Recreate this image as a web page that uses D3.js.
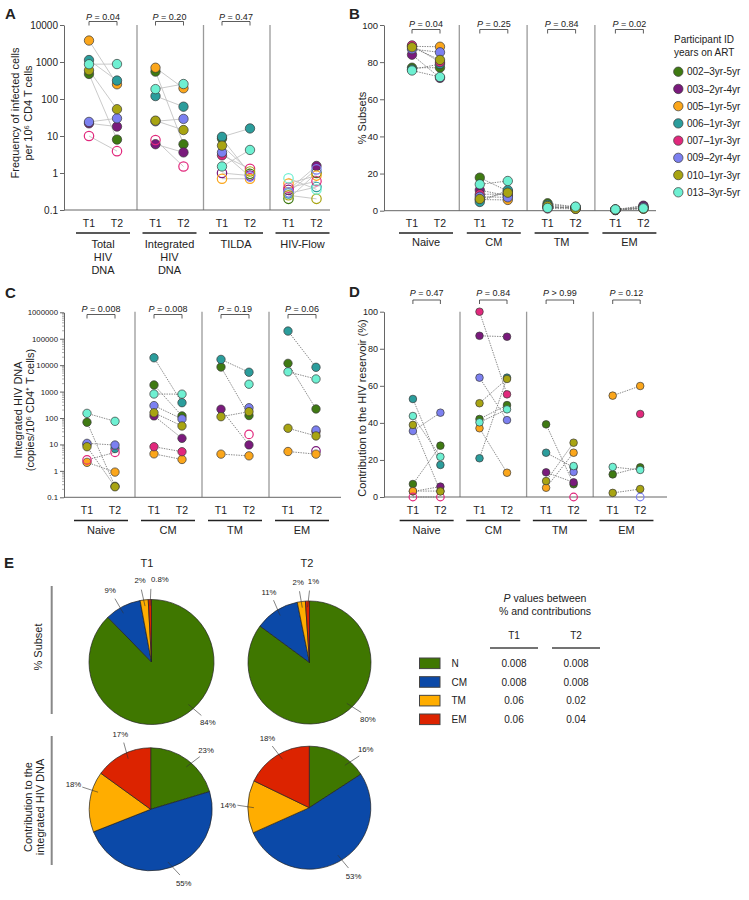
<!DOCTYPE html>
<html><head><meta charset="utf-8">
<script src="https://cdn.jsdelivr.net/npm/d3@7"></script>
<style>body{margin:0;background:#fff}svg text{font-family:"Liberation Sans",Arial,Helvetica,sans-serif;fill:#222}</style>
</head><body><svg id="fig" width="749" height="900"></svg>
<script>
// ---------- DATA ----------
const participantIds = ["002","003","005","006","007","009","010","013"];
const participantYears = ["3yr-5yr","2yr-4yr","1yr-5yr","1yr-3yr","1yr-3yr","2yr-4yr","1yr-3yr","3yr-5yr"];
const participantColors = ["#3f7a12","#7a1a7c","#fba61b","#2b9d9c","#e1287c","#7c80f0","#a8a412","#6ef0d2"];
const timepoints = ["T1","T2"];

// Panel A (order of participants as above; [T1, T2])
const assayGroups = ["Total HIV DNA","Integrated HIV DNA","TILDA","HIV-Flow"];
const assayGroupLines = [["Total","HIV","DNA"],["Integrated","HIV","DNA"],["TILDA"],["HIV-Flow"]];
const assayPValues = ["0.04","0.20","0.47",null];
const totalHivDna = [[475,8],[22,18],[3800,250],[1130,315],[10,3.9],[24,30],[600,53],[870,880]];
const totalHivDnaOpen = [[0,0],[0,0],[0,0],[0,0],[1,1],[0,0],[0,0],[0,0]];
const integratedHivDna = [[550,6],[6,3.6],[700,195],[120,62],[7.8,1.5],[25,29],[26,14.5],[185,254]];
const integratedHivDnaOpen = [[0,0],[0,0],[0,0],[0,0],[1,1],[0,0],[0,0],[0,0]];
const tilda = [[8.5,0.95],[1.0,0.85],[0.7,0.7],[9.5,16],[3.0,1.3],[3.6,0.8],[5.5,1.1],[1.5,4.2]];
const tildaOpen = [[0,1],[1,1],[1,1],[0,0],[0,1],[0,1],[0,1],[0,0]];
const hivFlow = [[0.2,1.0],[0.35,1.55],[0.52,0.85],[0.28,0.42],[0.4,0.6],[0.3,1.25],[0.25,0.2],[0.72,0.36]];
const hivFlowOpen = [[1,1],[1,0],[1,1],[1,1],[1,1],[1,1],[1,1],[1,1]];

// Panel B (% subsets)
const subsetGroups = ["Naive","CM","TM","EM"];
const subsetPValues = ["0.04","0.25","0.84","0.02"];
const naivePct = [[77,77],[84,71.5],[88.5,88.3],[76,79],[89,80],[87,85.3],[88,81.2],[75.5,72]];
const cmPct = [[17.8,10.5],[11.1,8],[6,5.8],[4.7,11.1],[8.8,9],[7.5,7.2],[6.3,9.7],[14.2,16]];
const tmPct = [[4.0,2.0],[2.2,1.5],[1.8,1.5],[3.2,2.0],[1.2,1.0],[2.0,1.6],[2.5,1.0],[1.5,2.2]];
const emPct = [[0.5,2.4],[0.6,2.7],[0.5,1.5],[0.4,1.6],[0.3,1.2],[0.5,1.8],[0.6,1.0],[0.7,1.3]];

// Panel C (integrated HIV DNA per subset)
const intDnaPValues = ["0.008","0.008","0.19","0.06"];
const naiveIntDna = [[69,0.26],[10,null],[2.1,0.9],[null,7],[2.6,5],[11,9.5],[8.2,0.25],[150,75]];
const naiveIntDnaOpen = [[0,0],[0,0],[0,0],[0,0],[1,1],[0,0],[0,0],[0,0]];
const cmIntDna = [[1780,120],[120,17],[4.4,2.7],[19000,380],[8.2,5.3],[295,92],[158,50],[810,800]];
const tmIntDna = [[8500,124],[215,9.6],[4.3,3.7],[16500,5400],[null,24],[null,245],[112,174],[null,1900]];
const tmIntDnaOpen = [[0,0],[0,0],[0,0],[0,0],[0,1],[0,0],[0,0],[0,0]];
const emIntDna = [[11700,220],[null,5.7],[5.4,4.3],[195000,8300],[null,30],[null,35],[41,21],[5600,3000]];
const emIntDnaOpen = [[0,0],[0,1],[0,0],[0,0],[0,0],[0,0],[0,0],[0,0]];

// Panel D (contribution to reservoir, %)
const contribPValues = ["0.47","0.84","> 0.99","0.12"];
const naiveContrib = [[7,27.7],[3,5.6],[3.2,3.2],[52.9,17.3],[0,0],[35.6,45.5],[38.9,3],[43.7,21.7]];
const naiveContribOpen = [[0,0],[0,0],[0,0],[0,0],[1,1],[0,0],[0,0],[0,0]];
const cmContrib = [[42.1,49.6],[87,86.5],[37.1,13.1],[20.9,64.4],[100,55.4],[64.4,41.5],[50.6,63.7],[40.3,47.3]];
const tmContrib = [[39.2,6.9],[13.3,7.9],[5.0,23.9],[23.9,16],[null,0],[null,13.5],[8.6,29.3],[null,16.7]];
const tmContribOpen = [[0,0],[0,0],[0,0],[0,0],[0,1],[0,0],[0,0],[0,0]];
const emContrib = [[12.2,16.0],[null,null],[54.7,59.9],[null,null],[null,44.8],[null,0],[2.2,4.3],[16.2,14.6]];
const emContribOpen = [[0,0],[0,0],[0,0],[0,0],[0,0],[0,1],[0,0],[0,0]];

// Panel E
const pieCategories = ["N","CM","TM","EM"];
const pieColors = ["#3f7700","#0b49a8","#ffad00","#dc2300"];
const subsetShareT1 = [84,9,2,0.8];
const subsetShareT2 = [80,11,2,1];
const contribShareT1 = [23,55,18,17];
const contribShareT2 = [16,53,14,18];
const pieP_T1 = ["0.008","0.008","0.06","0.06"];
const pieP_T2 = ["0.008","0.008","0.02","0.04"];

// ---------- DRAW ----------
const svg = d3.select("#fig");
const noneZero = [[0,0],[0,0],[0,0],[0,0],[0,0],[0,0],[0,0],[0,0]];

function pText(sel, v) {
  sel.append("tspan").attr("font-style","italic").text("P");
  sel.append("tspan").text(v.startsWith(">") ? " " + v : " = " + v);
}

function drawStrip(cfg) {
  const g = svg.append("g");
  const xBand = d3.scaleBand().domain(cfg.groups).range([cfg.bandStart, cfg.bandStart + cfg.step * cfg.groups.length]);
  const xTime = d3.scalePoint().domain(timepoints).range(cfg.timeOffsets);
  const y = cfg.y;
  const yBot = y.range()[0];
  const gx = (grp, t) => xBand(grp) + xTime(t);

  g.selectAll(".sep").data(cfg.groups.slice(1)).join("line")
    .attr("x1", d => xBand(d)).attr("x2", d => xBand(d))
    .attr("y1", cfg.sepTop).attr("y2", yBot)
    .attr("stroke", "#9a9a9a").attr("stroke-width", 1.3);

  g.append("line").attr("x1", cfg.axisX).attr("x2", cfg.baseEnd)
    .attr("y1", yBot).attr("y2", yBot).attr("stroke", "#666").attr("stroke-width", 1);

  const axis = d3.axisLeft(y).tickValues(cfg.ticks).tickFormat(cfg.tickFormat)
    .tickSize(4).tickSizeOuter(0).tickPadding(2);
  const ag = g.append("g").attr("transform", `translate(${cfg.axisX},0)`).call(axis);
  ag.select(".domain").attr("stroke", "#666");
  ag.selectAll(".tick line").attr("stroke", "#666");
  ag.selectAll(".tick text").attr("font-size", cfg.tickFont).attr("fill", "#222")
    .attr("font-family", "Liberation Sans, Arial, sans-serif");
  if (cfg.minor) {
    const minors = [];
    const [lo, hi] = y.domain();
    for (let d = lo; d < hi; d *= 10) for (let k = 2; k < 10; k++) minors.push(d * k);
    g.selectAll(".minor").data(minors).join("line")
      .attr("x1", cfg.axisX - 2).attr("x2", cfg.axisX)
      .attr("y1", d => y(d)).attr("y2", d => y(d)).attr("stroke", "#777").attr("stroke-width", 0.6);
  }

  cfg.yLabel.forEach((t, i) => {
    g.append("text").attr("transform", `translate(${cfg.yLabelX[i]},${cfg.yLabelY}) rotate(-90)`)
      .attr("text-anchor", "middle").attr("dy", "0.35em").attr("font-size", 11).text(t);
  });

  const lines = [], pts = [];
  cfg.groups.forEach((grp, gi) => {
    const vals = cfg.values[gi], open = cfg.open[gi];
    vals.forEach((pair, pi) => {
      const xs = timepoints.map(t => gx(grp, t));
      if (pair[0] != null && pair[1] != null)
        lines.push({ x1: xs[0], y1: y(pair[0]), x2: xs[1], y2: y(pair[1]) });
      pair.forEach((v, ti) => {
        if (v != null) pts.push({ x: xs[ti], y: y(v), c: participantColors[pi], open: open[pi][ti] });
      });
    });
  });
  g.selectAll(".conn").data(lines).join("line")
    .attr("x1", d => d.x1).attr("y1", d => d.y1).attr("x2", d => d.x2).attr("y2", d => d.y2)
    .attr("stroke", cfg.dotted ? "#7a7a7a" : "#c4c4c4").attr("stroke-width", 0.9)
    .attr("stroke-dasharray", cfg.dotted ? "1.4,1.1" : null);
  g.selectAll(".pt").data(pts).join("circle")
    .attr("cx", d => d.x).attr("cy", d => d.y).attr("r", cfg.r)
    .attr("fill", d => d.open ? "none" : d.c)
    .attr("stroke", d => d.open ? d.c : "#3a3a3a")
    .attr("stroke-width", d => d.open ? 1.2 : 0.7);

  cfg.groups.forEach((grp, gi) => {
    timepoints.forEach(t => {
      g.append("text").attr("x", gx(grp, t)).attr("y", cfg.tY).attr("text-anchor", "middle")
        .attr("font-size", 10.5).text(t);
    });
    const cx = (gx(grp, "T1") + gx(grp, "T2")) / 2;
    g.append("line").attr("x1", cx - 27).attr("x2", cx + 27).attr("y1", cfg.ulY).attr("y2", cfg.ulY)
      .attr("stroke", "#222").attr("stroke-width", 1.3);
    cfg.groupLines[gi].forEach((ln, li) => {
      g.append("text").attr("x", cx).attr("y", cfg.glY + li * 13).attr("text-anchor", "middle")
        .attr("font-size", 11).text(ln);
    });
    const pv = cfg.pvals[gi];
    if (pv != null) {
      const x1 = gx(grp, "T1"), x2 = gx(grp, "T2");
      g.append("path").attr("d", `M${x1},${cfg.bY + 4}V${cfg.bY}H${x2}V${cfg.bY + 4}`)
        .attr("fill", "none").attr("stroke", "#333").attr("stroke-width", 0.8);
      g.append("text").attr("x", cx).attr("y", cfg.pY).attr("text-anchor", "middle")
        .attr("font-size", 9).call(pText, pv);
    }
  });
}

const logFmt = d => d < 1 ? String(d) : d3.format("d")(d);

// Panel A
drawStrip({
  groups: assayGroups, groupLines: assayGroupLines, pvals: assayPValues,
  values: [totalHivDna, integratedHivDna, tilda, hivFlow],
  open: [totalHivDnaOpen, integratedHivDnaOpen, tildaOpen, hivFlowOpen],
  y: d3.scaleLog().domain([0.1, 10000]).range([210, 25]),
  ticks: [0.1, 1, 10, 100, 1000, 10000], tickFormat: logFmt, tickFont: 10,
  axisX: 64, bandStart: 70.5, step: 66.5, timeOffsets: [18.5, 46.5], sepTop: 25, baseEnd: 330,
  yLabel: ["Frequency of infected cells", "per 10\u2076 CD4 T cells"], yLabelX: [15, 28], yLabelY: 113,
  tY: 227, ulY: 233, glY: 247.5, pY: 20, bY: 21.5, r: 4.7, dotted: false
});
// Panel B
drawStrip({
  groups: subsetGroups, groupLines: subsetGroups.map(d => [d]), pvals: subsetPValues,
  values: [naivePct, cmPct, tmPct, emPct], open: [noneZero, noneZero, noneZero, noneZero],
  y: d3.scaleLinear().domain([0, 100]).range([210.7, 25]),
  ticks: [0, 20, 40, 60, 80, 100], tickFormat: d3.format("d"), tickFont: 9.5,
  axisX: 384, bandStart: 391.5, step: 67.8, timeOffsets: [20.5, 48.5], sepTop: 25, baseEnd: 656,
  yLabel: ["% Subsets"], yLabelX: [362], yLabelY: 118,
  tY: 227, ulY: 233, glY: 246, pY: 26.5, bY: 29.5, r: 4.7, dotted: true
});
// Panel C
drawStrip({
  groups: subsetGroups, groupLines: subsetGroups.map(d => [d]), pvals: intDnaPValues,
  values: [naiveIntDna, cmIntDna, tmIntDna, emIntDna],
  open: [naiveIntDnaOpen, noneZero, tmIntDnaOpen, emIntDnaOpen],
  y: d3.scaleLog().domain([0.1, 1e6]).range([497.3, 312.3]),
  ticks: [0.1, 1, 10, 100, 1000, 10000, 100000, 1000000], tickFormat: logFmt, tickFont: 7.8, minor: true,
  axisX: 64, bandStart: 68, step: 67, timeOffsets: [19, 47], sepTop: 311.7, baseEnd: 341,
  yLabel: ["Integrated HIV DNA", "(copies/10\u2076 CD4\u207A T cells)"], yLabelX: [18, 30], yLabelY: 410,
  tY: 514, ulY: 520.5, glY: 534, pY: 311.5, bY: 314.5, r: 4.2, dotted: true
});
// Panel D
drawStrip({
  groups: subsetGroups, groupLines: subsetGroups.map(d => [d]), pvals: contribPValues,
  values: [naiveContrib, cmContrib, tmContrib, emContrib],
  open: [naiveContribOpen, noneZero, tmContribOpen, emContribOpen],
  y: d3.scaleLinear().domain([0, 100]).range([497, 311.7]),
  ticks: [0, 20, 40, 60, 80, 100], tickFormat: d3.format("d"), tickFont: 9,
  axisX: 384, bandStart: 393.4, step: 66.6, timeOffsets: [19.5, 47], sepTop: 311.7, baseEnd: 667,
  yLabel: ["Contribution to the HIV reservoir (%)"], yLabelX: [362], yLabelY: 408,
  tY: 514, ulY: 520.5, glY: 534, pY: 296, bY: 300, r: 3.8, dotted: true
});

// Panel letters
[["A", 5, 19], ["B", 349, 19], ["C", 5, 298], ["D", 349, 297], ["E", 4, 568]].forEach(([t, x, yy]) => {
  svg.append("text").attr("x", x).attr("y", yy).attr("font-size", 15).attr("font-weight", "bold").text(t);
});

// Legend
const lg = svg.append("g");
lg.append("text").attr("x", 674).attr("y", 43).attr("font-size", 10).text("Participant ID");
lg.append("text").attr("x", 674).attr("y", 55.5).attr("font-size", 10).text("years on ART");
const legY = d3.scalePoint().domain(participantIds).range([71.7, 192.3]);
participantIds.forEach((id, i) => {
  lg.append("circle").attr("cx", 678.3).attr("cy", legY(id)).attr("r", 4.7)
    .attr("fill", participantColors[i]).attr("stroke", "#3a3a3a").attr("stroke-width", 0.7);
  lg.append("text").attr("x", 687).attr("y", legY(id) + 3.6).attr("font-size", 10)
    .text(id + "\u2013" + participantYears[i]);
});

// Panel E pies
const pieGen = d3.pie().sort(null).value(d => d);
const pieLayouts = [
  { vals: subsetShareT1, cx: 151.5, cy: 662, r: 62.5, inA: [139, 330, 353.4, 358.6], outA: [137, 330, 352, 359.5], tdx: [0, 0, 0, 9] },
  { vals: subsetShareT2, cx: 309.5, cy: 662.5, r: 61.5, inA: [137.6, 328, 352.5, 358], outA: [134, 330, 352, 360], tdx: [0, 0, 0, 4] },
  { vals: contribShareT1, cx: 150.7, cy: 809.3, r: 61.5, inA: [40, 162, 288, 336], outA: [43, 156, 288, 338], tdx: [0, 0, 0, 0] },
  { vals: contribShareT2, cx: 309.3, cy: 807.7, r: 61.5, inA: [40, 149, 270, 331], outA: [44, 147, 272, 329], tdx: [0, 0, 0, 0] }
];
const pol = (cx, cy, r, a) => [cx + r * Math.sin(a * Math.PI / 180), cy - r * Math.cos(a * Math.PI / 180)];
pieLayouts.forEach(p => {
  const g = svg.append("g").attr("transform", `translate(${p.cx},${p.cy})`);
  const arc = d3.arc().innerRadius(0).outerRadius(p.r);
  g.selectAll("path").data(pieGen(p.vals)).join("path")
    .attr("d", arc).attr("fill", (d, i) => pieColors[i]).attr("stroke", "#222").attr("stroke-width", 0.7);
  p.vals.forEach((v, i) => {
    const a = pol(p.cx, p.cy, p.r * 0.9, p.inA[i]);
    const b = pol(p.cx, p.cy, p.r * 1.17, p.outA[i]);
    const t = pol(p.cx, p.cy, p.r * 1.32, p.outA[i]);
    svg.append("line").attr("x1", a[0]).attr("y1", a[1]).attr("x2", b[0]).attr("y2", b[1])
      .attr("stroke", "#333").attr("stroke-width", 0.6);
    svg.append("text").attr("x", t[0] + p.tdx[i]).attr("y", t[1]).attr("dy", "0.35em")
      .attr("text-anchor", "middle").attr("font-size", 7.8).attr("fill", "#333").text(v + "%");
  });
});
svg.append("text").attr("x", 147).attr("y", 567).attr("text-anchor", "middle").attr("font-size", 11).text("T1");
svg.append("text").attr("x", 307).attr("y", 567).attr("text-anchor", "middle").attr("font-size", 11).text("T2");

// Row labels & bars
svg.append("line").attr("x1", 51.7).attr("x2", 51.7).attr("y1", 586).attr("y2", 714).attr("stroke", "#888").attr("stroke-width", 2);
svg.append("line").attr("x1", 51.7).attr("x2", 51.7).attr("y1", 736).attr("y2", 865).attr("stroke", "#888").attr("stroke-width", 2);
svg.append("text").attr("transform", "translate(38.3,647) rotate(-90)").attr("text-anchor", "middle").attr("dy", "0.35em").attr("font-size", 11).text("% Subset");
svg.append("text").attr("transform", "translate(28.3,807) rotate(-90)").attr("text-anchor", "middle").attr("dy", "0.35em").attr("font-size", 11).text("Contribution to the");
svg.append("text").attr("transform", "translate(40.5,807) rotate(-90)").attr("text-anchor", "middle").attr("dy", "0.35em").attr("font-size", 11).text("integrated HIV DNA");

// P-value table
const tb = svg.append("g");
tb.append("text").attr("x", 545).attr("y", 602).attr("text-anchor", "middle").attr("font-size", 10.5)
  .call(s => { s.append("tspan").attr("font-style", "italic").text("P"); s.append("tspan").text(" values between"); });
tb.append("text").attr("x", 545).attr("y", 614.5).attr("text-anchor", "middle").attr("font-size", 10.5).text("% and contributions");
const colX = d3.scalePoint().domain(timepoints).range([514, 576]);
timepoints.forEach(t => {
  tb.append("text").attr("x", colX(t)).attr("y", 638.5).attr("text-anchor", "middle").attr("font-size", 10).text(t);
  tb.append("line").attr("x1", colX(t) - 24).attr("x2", colX(t) + 24).attr("y1", 648).attr("y2", 648)
    .attr("stroke", "#444").attr("stroke-width", 1.3);
});
const rowY = d3.scalePoint().domain(pieCategories).range([663.3, 719.3]);
pieCategories.forEach((c, i) => {
  tb.append("rect").attr("x", 419.5).attr("y", rowY(c) - 5.3).attr("width", 20.5).attr("height", 10.6)
    .attr("fill", pieColors[i]).attr("stroke", "#444").attr("stroke-width", 1);
  tb.append("text").attr("x", 451.5).attr("y", rowY(c) + 3.6).attr("font-size", 10).text(c);
  tb.append("text").attr("x", colX("T1")).attr("y", rowY(c) + 3.6).attr("text-anchor", "middle").attr("font-size", 10).text(pieP_T1[i]);
  tb.append("text").attr("x", colX("T2")).attr("y", rowY(c) + 3.6).attr("text-anchor", "middle").attr("font-size", 10).text(pieP_T2[i]);
});
</script>
</body></html>
